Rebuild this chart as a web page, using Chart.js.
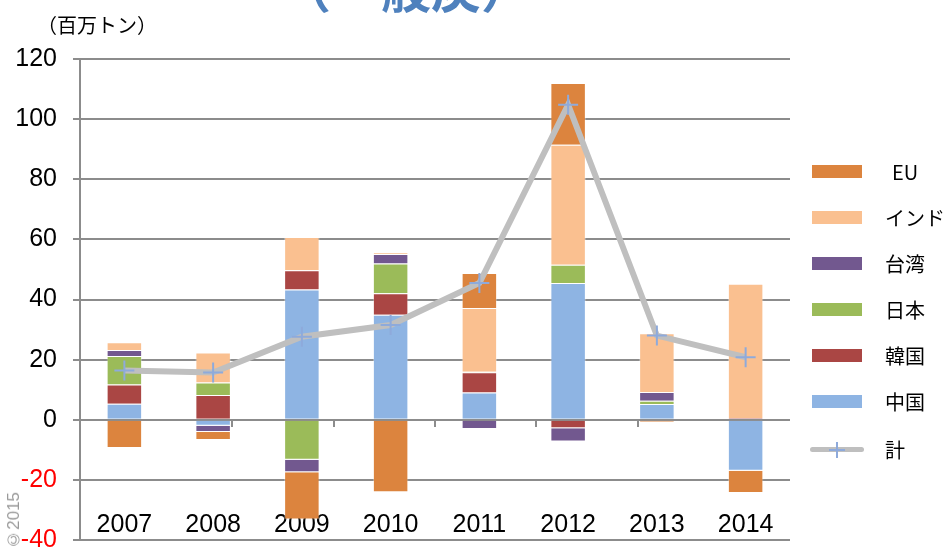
<!DOCTYPE html>
<html>
<head>
<meta charset="utf-8">
<script src="https://cdn.jsdelivr.net/npm/chart.js@4/dist/chart.umd.min.js"></script>
<style>
  html, body { margin: 0; padding: 0; background: #fff; overflow: hidden; }
  body { width: 946px; height: 549px; position: relative; font-family: 'Liberation Sans', 'Noto Sans CJK JP', sans-serif; }
  #wrap { position: absolute; left: 0; top: 0; width: 946px; height: 580px; }
  #title { position: absolute; left: 281px; top: -39px; font: bold 50px 'Noto Sans CJK JP', sans-serif; color: #4f81bd; line-height: 1; white-space: nowrap; }
  #unit { position: absolute; left: 37px; top: 15px; font: 20px 'Noto Sans CJK JP', sans-serif; color: #000; line-height: 1; white-space: nowrap; }
  #copy { position: absolute; left: 5px; top: 492px; font: 17px 'Liberation Sans', sans-serif; color: #9a9a9a; writing-mode: vertical-rl; transform: rotate(180deg); line-height: 18px; white-space: nowrap; }
  #legend { position: absolute; left: 812px; top: 0; }
  .item { position: absolute; left: 0; width: 140px; height: 30px; }
  .sw { position: absolute; left: 0; top: 8px; width: 50px; height: 13px; }
  .lab { position: absolute; left: 73px; top: 0; font: 20px 'Noto Sans CJK JP', sans-serif; line-height: 30px; color: #000; white-space: nowrap; }
  .ln { position: absolute; left: -2px; top: 12px; width: 54px; height: 5px; border-radius: 3px; background: #bfbfbf; }
  .ch { position: absolute; background: #8eaadb; }
</style>
</head>
<body>
<div id="wrap"><canvas id="chart" width="946" height="580"></canvas></div>
<div id="title">（一般炭）</div>
<div id="unit">（百万トン）</div>
<div id="copy">©2015</div>
<div id="legend"></div>
<script>
// data (百万トン)
const years = ['2007', '2008', '2009', '2010', '2011', '2012', '2013', '2014'];
const china  = [5.3, -2.0, 43.3, 34.9, 9.1, 45.5, 5.2, -17.0];
const korea  = [6.4, 8.2, 6.4, 7.2, 6.7, -2.8, 0, 0.6];
const japan  = [9.5, 4.2, -13.3, 9.9, 0.2, 6.1, 1.1, 0];
const taiwan = [2.0, -2.1, -4.2, 3.1, -3.1, -4.4, 2.9, 0];
const india  = [2.6, 10.0, 11.1, 0.5, 21.2, 39.9, 19.6, 44.6];
const eu     = [-9.4, -2.6, -15.7, -24.1, 11.6, 20.5, -0.8, -7.4];
const total  = [16.4, 15.7, 27.6, 31.5, 45.5, 104.8, 28.0, 20.8];
const yTicks = [-40, -20, 0, 20, 40, 60, 80, 100, 120];

const colors = {
  china: '#8eb4e3',
  korea: '#aa4644',
  japan: '#9bbb59',
  taiwan: '#72588f',
  india: '#fac090',
  eu: '#dc843e'
};

function bar(label, data, color) {
  return {
    type: 'bar',
    label: label,
    data: data,
    backgroundColor: color,
    borderColor: 'rgba(255,255,255,0.35)',
    borderWidth: 1,
    barPercentage: 0.4,
    categoryPercentage: 1,
    order: 1
  };
}

const gridGray = '#8c8c8c';

new Chart(document.getElementById('chart'), {
  data: {
    labels: years,
    datasets: [
      bar('中国', china, colors.china),
      bar('韓国', korea, colors.korea),
      bar('日本', japan, colors.japan),
      bar('台湾', taiwan, colors.taiwan),
      bar('インド', india, colors.india),
      bar('EU', eu, colors.eu),
      {
        type: 'line',
        label: '計',
        data: total,
        stack: 'total',
        borderColor: '#bfbfbf',
        borderWidth: 6,
        tension: 0,
        pointStyle: 'cross',
        pointRadius: 10,
        pointBorderColor: '#8eaadb',
        pointBorderWidth: 2,
        order: 0
      }
    ]
  },
  options: {
    responsive: false,
    animation: false,
    layout: { padding: { top: 59, right: 156, left: 0, bottom: 0 } },
    plugins: {
      legend: { display: false },
      tooltip: { enabled: false }
    },
    scales: {
      x: {
        stacked: true,
        z: 1,
        grid: { display: false, drawTicks: false },
        border: { display: false },
        ticks: {
          color: '#000',
          mirror: true,
          padding: 0,
          font: { size: 25, family: "'Liberation Sans', sans-serif" }
        },
        afterFit: s => { s.height = 40; }
      },
      x2: {
        axis: 'x',
        type: 'category',
        position: { y: 0 },
        ticks: { display: false },
        border: { display: false },
        grid: { drawOnChartArea: false, drawTicks: true, offset: true, tickLength: 7, color: gridGray, lineWidth: 2 }
      },
      y: {
        stacked: true,
        min: -40,
        max: 120,
        afterBuildTicks: s => { s.ticks = yTicks.map(v => ({ value: v })); },
        grid: { color: gridGray, lineWidth: 2, tickLength: 7 },
        border: { color: gridGray, width: 2 },
        ticks: {
          padding: 16,
          font: { size: 25, family: "'Liberation Sans', sans-serif" },
          color: ctx => ctx.tick.value < 0 ? '#ff0000' : '#000'
        },
        afterFit: s => { s.width = 80; }
      }
    }
  }
});

// legend (reverse stacking order)
const legendItems = [
  ['EU', colors.eu], ['インド', colors.india], ['台湾', colors.taiwan],
  ['日本', colors.japan], ['韓国', colors.korea], ['中国', colors.china], ['計', null]
];
const legendTops = [157, 203, 249, 295, 341, 387, 435];
const legend = document.getElementById('legend');
legendItems.forEach((it, i) => {
  const d = document.createElement('div');
  d.className = 'item';
  d.style.top = legendTops[i] + 'px';
  if (it[1]) {
    d.innerHTML = `<div class="sw" style="background:${it[1]}"></div>`;
  } else {
    d.innerHTML = `<div class="ln"></div>
      <div class="ch" style="left:17px;top:14px;width:16px;height:2px"></div>
      <div class="ch" style="left:24px;top:7px;width:2px;height:16px"></div>`;
  }
  const lab = document.createElement('div');
  lab.className = 'lab';
  lab.textContent = it[0];
  if (it[0] === 'EU') lab.style.left = '80px';
  d.appendChild(lab);
  legend.appendChild(d);
});
</script>
</body>
</html>
